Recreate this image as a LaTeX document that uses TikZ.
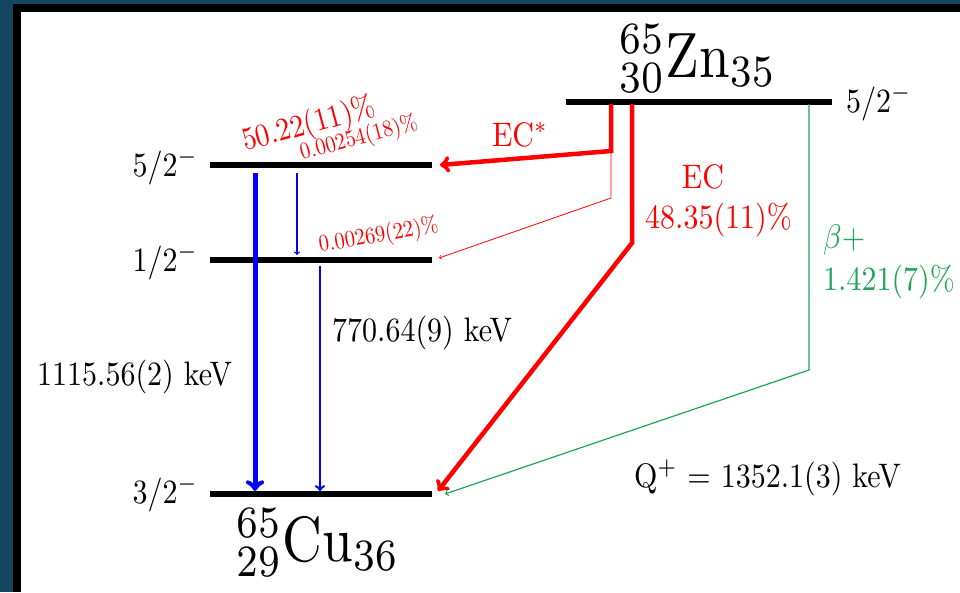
\RequirePackage{fix-cm}
\documentclass[tikz,border=0pt]{standalone}
\usepackage{graphicx}
\definecolor{frameblue}{RGB}{20,70,96}
\definecolor{betagreen}{RGB}{30,165,85}
\newcommand\tl[1]{\scalebox{3.0}[3.4]{#1}}
\newcommand\tm[1]{\scalebox{2.8}[3.2]{#1}}
\newcommand\ts[1]{\scalebox{2.05}[2.35]{#1}}
\newcommand\tb[1]{\scalebox{5.5}[6.4]{#1}}
\tikzset{
  lvl/.style={line width=5.5pt},
  lbl/.style={inner sep=0pt, font=\fontsize{10}{12}\selectfont},
  ecthick/.style={red, line width=4.5pt},
  ecthin/.style={red, line width=0.8pt},
  betaline/.style={betagreen, line width=1.2pt},
  gthick/.style={blue, line width=5pt},
  gmid/.style={blue, line width=2.5pt},
  gthin/.style={blue, line width=1.3pt},
}
\begin{document}
\begin{tikzpicture}[x=1pt, y={(0pt,-1pt)}]
\useasboundingbox (0,0) rectangle (960,592);
\fill[frameblue] (0,0) rectangle (960,592);
\fill[black] (13,4) rectangle (960,592);
\fill[white] (21,12) rectangle (960,592);

% level coordinates
\coordinate (ZnL) at (566,102); \coordinate (ZnR) at (832,102);
\coordinate (A5L) at (210,165); \coordinate (A5R) at (432,165);
\coordinate (A1L) at (210,260); \coordinate (A1R) at (432,260);
\coordinate (GL) at (210,494);  \coordinate (GR) at (432,494);

\draw[lvl] (ZnL) -- (ZnR);
\draw[lvl] (A5L) -- (A5R);
\draw[lvl] (A1L) -- (A1R);
\draw[lvl] (GL) -- (GR);

% connector points
\coordinate (ecsTop) at (611,104);
\coordinate (ecsBend) at (611,151);
\coordinate (ecsTip) at (440,165);
\coordinate (ecs2Bend) at (611,198);
\coordinate (ecs2Tip) at (439,258);
\coordinate (ecTop) at (632,104);
\coordinate (ecBend) at (632,243);
\coordinate (ecTip) at (438,491);
\coordinate (bTop) at (809,104);
\coordinate (bBend) at (809,370);
\coordinate (bTip) at (445,494);
\coordinate (g1Top) at (255,173);
\coordinate (g1Tip) at (255,491);
\coordinate (g2Top) at (297,173);
\coordinate (g2Tip) at (297,255);
\coordinate (g3Top) at (320,266);
\coordinate (g3Tip) at (320,491);

\draw[ecthin, ->] (ecsBend) -- (ecs2Bend) -- (ecs2Tip);
\draw[ecthick, ->] (ecsTop) -- (ecsBend) -- (ecsTip);
\draw[ecthick, ->] (ecTop) -- (ecBend) -- (ecTip);
\draw[betaline, ->] (bTop) -- (bBend) -- (bTip);
\draw[gthick, ->] (g1Top) -- (g1Tip);
\draw[gthin, ->] (g2Top) -- (g2Tip);
\draw[gmid, ->] (g3Top) -- (g3Tip);

% nuclide labels
\node[lbl, anchor=base west] (zn) at (619,77) {\tb{${}^{65}_{30}\mathrm{Zn}_{35}$}};
\node[lbl, anchor=base west] (cu) at (236,561) {\tb{${}^{65}_{29}\mathrm{Cu}_{36}$}};

% spin labels
\node[lbl, anchor=base west] (sZn) at (846,112) {\tl{$5/2^{-}$}};
\node[lbl, anchor=base east] (s5) at (198,176) {\tl{$5/2^{-}$}};
\node[lbl, anchor=base east] (s1) at (198,271) {\tl{$1/2^{-}$}};
\node[lbl, anchor=base east] (s3) at (198,503) {\tl{$3/2^{-}$}};

% energies
\node[lbl, anchor=base west] (e1) at (37,385) {\tl{1115.56(2) keV}};
\node[lbl, anchor=base west] (e2) at (332,341) {\tl{770.64(9) keV}};
\node[lbl, anchor=base west] (q) at (634,487) {\tl{Q$^{+}$ = 1352.1(3) keV}};

% decay labels
\node[lbl, red, anchor=base] (ecsl) at (520,146) {\tl{EC$^{*}$}};
\node[lbl, red, anchor=base] (ecl) at (703,188) {\tl{EC}};
\node[lbl, red, anchor=base west] (ecp) at (645,228) {\tl{48.35(11)\%}};
\node[lbl, betagreen, anchor=base west] (bl) at (823,248) {\tl{$\beta+$}};
\node[lbl, betagreen, anchor=base west] (bp) at (823,290) {\tl{1.421(7)\%}};

% branching labels
\node[lbl, red, anchor=base west, rotate=15] (p1) at (245,151) {\tm{50.22(11)\%}};
\node[lbl, red, anchor=base west, rotate=15] (p2) at (302,160) {\ts{0.00254(18)\%}};
\node[lbl, red, anchor=base west, rotate=9.5] (p3) at (320,252) {\ts{0.00269(22)\%}};
\end{tikzpicture}
\end{document}
